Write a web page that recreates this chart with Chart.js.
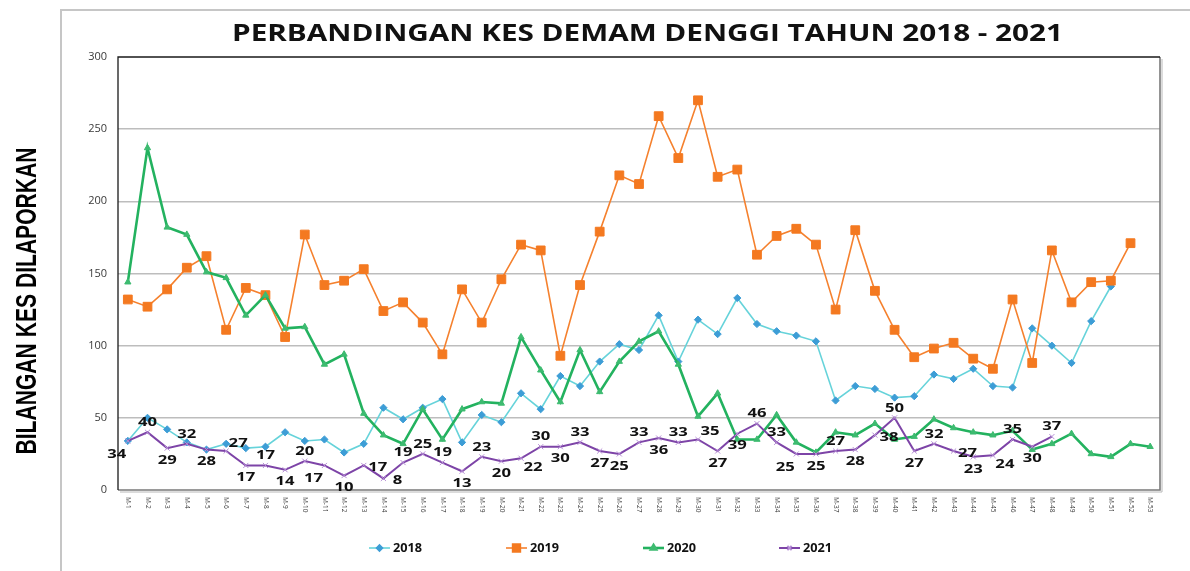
<!DOCTYPE html>
<html>
<head>
<meta charset="utf-8">
<script src="https://cdn.jsdelivr.net/npm/chart.js@4.4.1/dist/chart.umd.min.js"></script>
<style>
  html, body { margin: 0; padding: 0; background: #fff; }
  #wrap { width: 1190px; height: 571px; position: relative; }
</style>
</head>
<body>
<div id="wrap"><canvas id="chart"></canvas></div>
<script>
const WEEKS = ['M-1', 'M-2', 'M-3', 'M-4', 'M-5', 'M-6', 'M-7', 'M-8', 'M-9', 'M-10',
  'M-11', 'M-12', 'M-13', 'M-14', 'M-15', 'M-16', 'M-17', 'M-18', 'M-19', 'M-20',
  'M-21', 'M-22', 'M-23', 'M-24', 'M-25', 'M-26', 'M-27', 'M-28', 'M-29', 'M-30',
  'M-31', 'M-32', 'M-33', 'M-34', 'M-35', 'M-36', 'M-37', 'M-38', 'M-39', 'M-40',
  'M-41', 'M-42', 'M-43', 'M-44', 'M-45', 'M-46', 'M-47', 'M-48', 'M-49', 'M-50',
  'M-51', 'M-52', 'M-53'];

const Y_TICKS = [0, 50, 100, 150, 200, 250, 300];

const CASES_2018 = [34, 50, 42, 33, 28, 32, 29, 30, 40, 34, 35, 26, 32, 57, 49, 57, 63, 33, 52, 47,
  67, 56, 79, 72, 89, 101, 97, 121, 89, 118, 108, 133, 115, 110, 107, 103, 62, 72, 70, 64,
  65, 80, 77, 84, 72, 71, 112, 100, 88, 117, 141];

const CASES_2019 = [132, 127, 139, 154, 162, 111, 140, 135, 106, 177, 142, 145, 153, 124, 130, 116, 94, 139, 116, 146,
  170, 166, 93, 142, 179, 218, 212, 259, 230, 270, 217, 222, 163, 176, 181, 170, 125, 180, 138, 111,
  92, 98, 102, 91, 84, 132, 88, 166, 130, 144, 145, 171];

const CASES_2020 = [144, 237, 182, 177, 151, 147, 121, 135, 112, 113, 87, 94, 53, 38, 32, 56, 35, 56, 61, 60,
  106, 83, 61, 97, 68, 89, 103, 110, 87, 51, 67, 35, 35, 52, 33, 26, 40, 38, 46, 35,
  37, 49, 43, 40, 38, 41, 28, 32, 39, 25, 23, 32, 30];

const CASES_2021 = [34, 40, 29, 32, 28, 27, 17, 17, 14, 20, 17, 10, 17, 8, 19, 25, 19, 13, 23, 20,
  22, 30, 30, 33, 27, 25, 33, 36, 33, 35, 27, 39, 46, 33, 25, 25, 27, 28, 38, 50,
  27, 32, 27, 23, 24, 35, 30, 37];

// where each 2021 value label sits relative to its point
const LABEL_POS = ['bl', 'a', 'b', 'a', 'b', 'ar', 'b', 'a', 'b', 'a', 'bl', 'b', 'r', 'r', 'a', 'a', 'a', 'b', 'a', 'b',
  'br', 'a', 'b', 'a', 'b', 'b', 'a', 'b', 'a', 'ar', 'b', 'b', 'a', 'a', 'bl', 'b', 'a', 'b', 'r', 'a',
  'b', 'a', 'r', 'b', 'br', 'a', 'b', 'a'];

const POS_OFFSET = {
  a: [0, -10], b: [0, 12], r: [14, 2], l: [-14, 0],
  ar: [12, -8], br: [12, 9], bl: [-11, 13]
};

const COLORS = {
  c2018: '#66D3DA', m2018: '#3D9DD6',
  c2019: '#F5812E', m2019: '#F47920',
  c2020: '#23B25F', m2020: '#3DBB70',
  c2021: '#7D44A7', m2021: '#B68ED6'
};

const SERIES = [
  { label: '2018', data: CASES_2018, line: COLORS.c2018, marker: COLORS.m2018, style: 'rectRot', r: 3.6, w: 1.6 },
  { label: '2019', data: CASES_2019, line: COLORS.c2019, marker: COLORS.m2019, style: 'rect', r: 6.2, w: 1.6 },
  { label: '2020', data: CASES_2020, line: COLORS.c2020, marker: COLORS.m2020, style: 'triangle', r: 3.6, w: 2.6 },
  { label: '2021', data: CASES_2021, line: COLORS.c2021, marker: COLORS.m2021, style: 'crossRot', r: 3.6, w: 2 }
];

const AREA = { left: 118, top: 57, right: 1160, bottom: 490 };

function drawWide(ctx, text, x, y, font, targetWidth) {
  ctx.font = font;
  const w = ctx.measureText(text).width;
  ctx.save();
  ctx.translate(x, y);
  ctx.scale(targetWidth / w, 1);
  ctx.textAlign = 'center';
  ctx.fillText(text, 0, 0);
  ctx.restore();
}

const decorPlugin = {
  id: 'decor',
  beforeDraw(chart) {
    const ctx = chart.ctx;
    ctx.save();
    ctx.fillStyle = '#fff';
    ctx.fillRect(0, 0, chart.width, chart.height);
    // outer frame
    ctx.strokeStyle = '#c6c6c6';
    ctx.lineWidth = 2;
    ctx.beginPath();
    ctx.moveTo(61, 571);
    ctx.lineTo(61, 10);
    ctx.lineTo(1190, 10);
    ctx.stroke();
    ctx.restore();
  },
  afterDatasetsDraw(chart) {
    const ctx = chart.ctx;
    const a = chart.chartArea;
    ctx.save();
    // plot area box
    ctx.strokeStyle = '#b8b8b8';
    ctx.lineWidth = 1;
    ctx.beginPath();
    ctx.moveTo(a.right + 2, a.top + 2);
    ctx.lineTo(a.right + 2, a.bottom + 2);
    ctx.lineTo(a.left + 2, a.bottom + 2);
    ctx.stroke();
    ctx.strokeStyle = '#7a7a7a';
    ctx.lineWidth = 1.6;
    ctx.beginPath();
    ctx.moveTo(a.right, a.top);
    ctx.lineTo(a.right, a.bottom);
    ctx.lineTo(a.left, a.bottom);
    ctx.stroke();
    ctx.strokeStyle = '#1a1a1a';
    ctx.lineWidth = 1.3;
    ctx.beginPath();
    ctx.moveTo(a.left, a.bottom);
    ctx.lineTo(a.left, a.top);
    ctx.lineTo(a.right, a.top);
    ctx.stroke();

    // 2021 value labels
    const meta = chart.getDatasetMeta(3);
    ctx.fillStyle = '#111';
    ctx.textBaseline = 'middle';
    meta.data.forEach((pt, i) => {
      const off = POS_OFFSET[LABEL_POS[i]] || POS_OFFSET.a;
      const txt = String(CASES_2021[i]);
      ctx.font = 'bold 13px "Open Sans"';
      const w = ctx.measureText(txt).width;
      drawWide(ctx, txt, pt.x + off[0], pt.y + off[1], 'bold 13px "Open Sans"', w * 1.28);
    });

    // x tick labels, rotated to read downwards
    const xs = chart.scales.x;
    ctx.fillStyle = '#3a3a3a';
    ctx.font = '6.5px "Open Sans"';
    ctx.textAlign = 'left';
    ctx.textBaseline = 'middle';
    WEEKS.forEach((lbl, i) => {
      const x = xs.getPixelForTick(i);
      ctx.save();
      ctx.translate(x, 497);
      ctx.rotate(Math.PI / 2);
      ctx.fillText(lbl, 0, 0);
      ctx.restore();
    });

    // title
    ctx.fillStyle = '#111';
    ctx.textBaseline = 'alphabetic';
    drawWide(ctx, 'PERBANDINGAN KES DEMAM DENGGI TAHUN 2018 - 2021', 647.5, 41, 'bold 24px "Open Sans"', 831);

    // y axis title
    ctx.save();
    ctx.translate(36, 301);
    ctx.rotate(-Math.PI / 2);
    ctx.fillStyle = '#000';
    drawWide(ctx, 'BILANGAN KES DILAPORKAN', 0, 0, 'bold 30px "Liberation Sans Narrow", "Liberation Sans"', 307);
    ctx.restore();

    // legend
    const legendX = [369, 506, 643, 779];
    SERIES.forEach((s, i) => {
      const x0 = legendX[i];
      const y = 548;
      ctx.strokeStyle = s.line;
      ctx.lineWidth = s.w;
      ctx.beginPath();
      ctx.moveTo(x0, y);
      ctx.lineTo(x0 + 21, y);
      ctx.stroke();
      ctx.fillStyle = s.marker;
      ctx.strokeStyle = s.marker;
      Chart.helpers.drawPoint(ctx, {
        pointStyle: s.style,
        radius: s.style === 'rect' ? 5.5 : 3,
        borderWidth: 1,
        rotation: 0
      }, x0 + 10.5, y);
      ctx.fillStyle = '#111';
      ctx.textAlign = 'left';
      ctx.textBaseline = 'middle';
      ctx.font = 'bold 13px "Open Sans"';
      const w = ctx.measureText(s.label).width;
      ctx.save();
      ctx.translate(x0 + 24, y);
      ctx.scale(29 / w, 1);
      ctx.fillText(s.label, 0, 0);
      ctx.restore();
    });
    ctx.restore();
  }
};

const datasets = SERIES.map((s, i) => ({
  label: s.label,
  data: s.data,
  borderColor: s.line,
  backgroundColor: s.marker,
  borderWidth: s.w,
  pointStyle: s.style,
  pointRadius: s.r,
  pointBorderColor: s.marker,
  pointBackgroundColor: s.marker,
  pointBorderWidth: 1,
  tension: 0,
  fill: false,
  order: 4 - i
}));

new Chart(document.getElementById('chart'), {
  type: 'line',
  data: { labels: WEEKS, datasets },
  options: {
    responsive: true,
    maintainAspectRatio: false,
    animation: false,
    events: [],
    layout: { padding: { top: AREA.top, right: 1190 - AREA.right, bottom: 0, left: 0 } },
    plugins: {
      legend: { display: false },
      tooltip: { enabled: false },
      title: { display: false }
    },
    scales: {
      x: {
        offset: true,
        grid: { display: false, drawTicks: false },
        border: { display: false },
        ticks: { display: false },
        afterFit(scale) { scale.height = 571 - AREA.bottom; }
      },
      y: {
        min: 0,
        max: 300,
        afterFit(scale) { scale.width = AREA.left; },
        afterBuildTicks(scale) { scale.ticks = Y_TICKS.map(v => ({ value: v })); },
        border: { display: false },
        grid: {
          drawTicks: false,
          lineWidth: 1.6,
          color: c => (c.tick && (c.tick.value === 300 || c.tick.value === 0)) ? 'rgba(0,0,0,0)' : '#bdbdbd'
        },
        ticks: {
          padding: 11,
          color: '#3a3a3a',
          font: { family: 'Open Sans', size: 11 }
        }
      }
    }
  },
  plugins: [decorPlugin]
});
</script>
</body>
</html>
